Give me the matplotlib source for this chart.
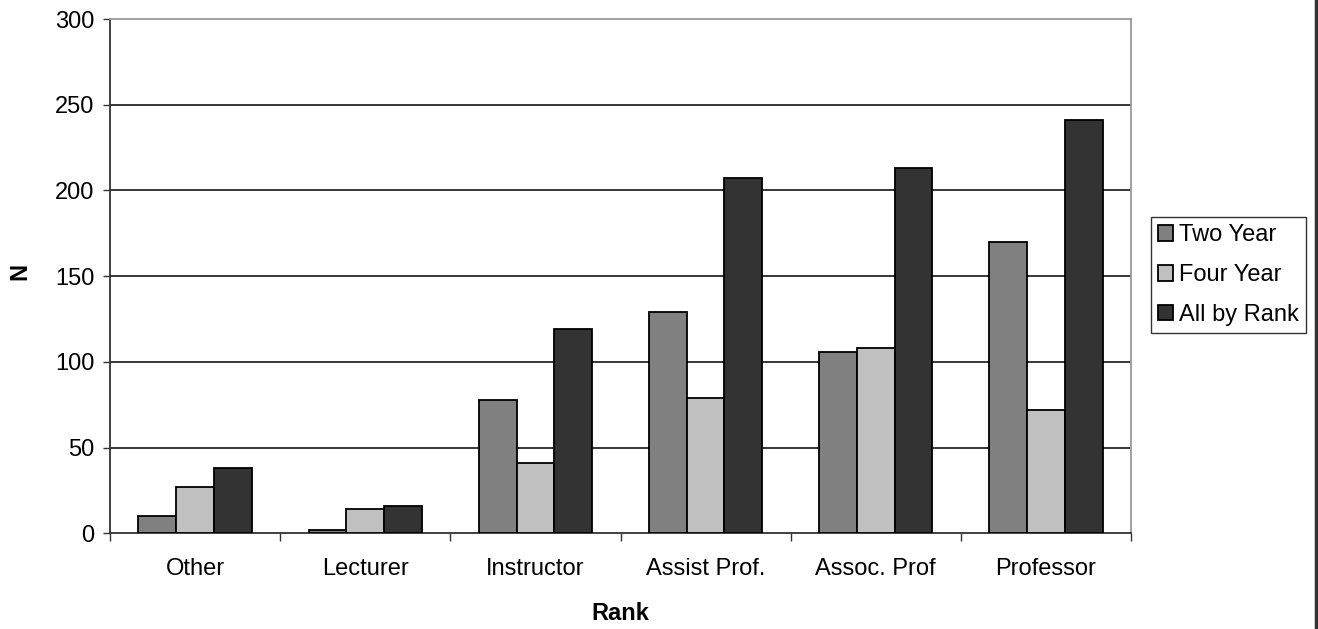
import matplotlib
matplotlib.use("Agg")
import matplotlib.pyplot as plt
from matplotlib.lines import Line2D
import numpy as np

categories = ["Other", "Lecturer", "Instructor", "Assist Prof.", "Assoc. Prof", "Professor"]
two_year = [10, 2, 78, 129, 106, 170]
four_year = [27, 14, 41, 79, 108, 72]
all_by_rank = [38, 16, 119, 207, 213, 241]
series_names = ["Two Year", "Four Year", "All by Rank"]
y_ticks = [0, 50, 100, 150, 200, 250, 300]

plt.rcParams['font.family'] = ['Liberation Sans', 'DejaVu Sans']
fs = 17

fig = plt.figure(figsize=(13.18, 6.29), dpi=100)
ax = fig.add_axes([110/1318, 1 - 533.3/629, (1131 - 110)/1318, (533.3 - 19)/629])

x = np.arange(len(categories))
w = 1 / 4.5
colors = ["#808080", "#C0C0C0", "#333333"]
for i, (vals, name) in enumerate(zip([two_year, four_year, all_by_rank], series_names)):
    ax.bar(x + (i - 1) * w, vals, width=w, color=colors[i], edgecolor="black",
           linewidth=1.3, label=name, zorder=3)

ax.set_xlim(-0.5, len(categories) - 0.5)
ax.set_ylim(0, 300)
ax.set_yticks(y_ticks)
ax.set_yticklabels([str(v) for v in y_ticks], fontsize=fs)
for v in y_ticks[1:-1]:
    ax.axhline(v, color="black", linewidth=1.1, zorder=1)

ax.set_xticks(x)
ax.set_xticklabels(categories, fontsize=fs)
ax.tick_params(axis='x', which='major', length=0, pad=18)
ax.set_xticks(np.arange(-0.5, len(categories)), minor=True)
ax.tick_params(axis='x', which='minor', length=6, width=1, color="#333333")
ax.tick_params(axis='y', length=5, width=1, pad=6, color="#333333")

ax.spines['left'].set_color("#333333")
ax.spines['bottom'].set_color("#333333")
ax.spines['top'].set_color("#9a9a9a")
ax.spines['right'].set_color("#9a9a9a")
for s in ax.spines.values():
    s.set_linewidth(1.3)

fig.text(20/1318, 1 - 271/629, "N", rotation=90, fontsize=fs, fontweight="bold",
         ha="center", va="center")
fig.text(620/1318, 1 - 613/629, "Rank", fontsize=fs, fontweight="bold",
         ha="center", va="center")

leg = ax.legend(loc="center left", bbox_to_anchor=(1151/1318, 1 - 275/629),
                bbox_transform=fig.transFigure, fontsize=fs, frameon=True,
                fancybox=False, handlelength=0.65, handleheight=0.65,
                handletextpad=0.25, borderpad=0.3, labelspacing=0.75,
                borderaxespad=0)
leg.get_frame().set_edgecolor("black")
leg.get_frame().set_linewidth(1.0)

fig.add_artist(Line2D([1315.5/1318, 1315.5/1318], [0, 1], transform=fig.transFigure,
                      color="#333333", linewidth=2.5))

fig.savefig("out.png", dpi=100)
